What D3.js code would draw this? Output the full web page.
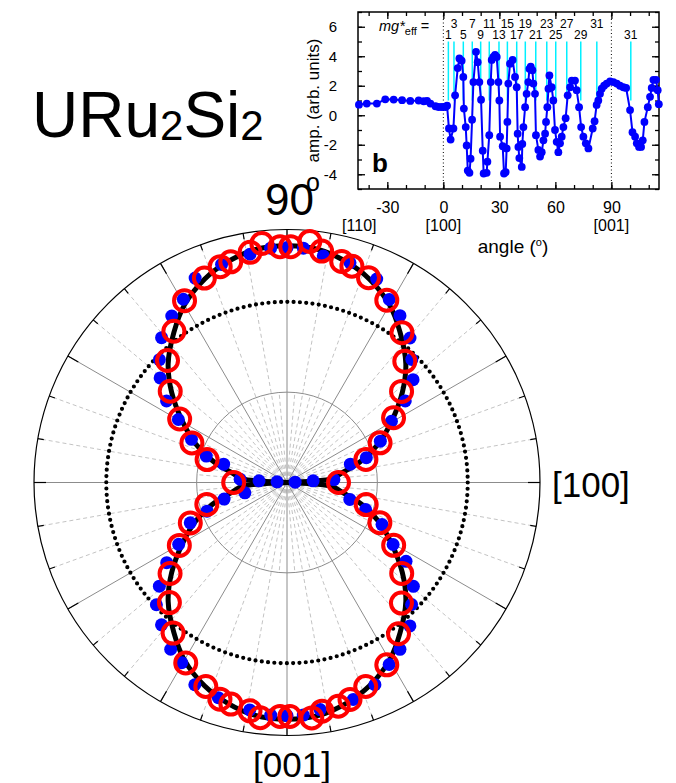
<!DOCTYPE html>
<html>
<head>
<meta charset="utf-8">
<script src="https://cdn.jsdelivr.net/npm/d3@7"></script>
<style>
body { margin: 0; background: #fff; }
text { font-family: "Liberation Sans", Arial, Helvetica, sans-serif; fill: #000; }
</style>
</head>
<body>
<svg id="chart" width="676" height="783"></svg>
<script>
/*****************************************************************************
 *  Data
 */

// polar panel: fit curve (angle in degrees, amplitude)
var fitAngle = [0, 3, 5, 10, 16, 23, 30, 38, 45, 53, 60, 68, 75, 82, 90,
                98, 105, 112, 120, 127, 135, 142, 150, 157, 164, 170, 175, 177,
                180, 183, 185, 190, 196, 203, 210, 218, 225, 233, 240, 248, 255, 262, 270,
                278, 285, 292, 300, 307, 315, 322, 330, 337, 344, 350, 355, 357];
var fitValue = [0.00, 0.30, 0.50, 0.62, 0.85, 1.10, 1.33, 1.62, 1.86, 2.08, 2.27, 2.43, 2.53, 2.60, 2.62,
                2.60, 2.53, 2.43, 2.27, 2.08, 1.86, 1.62, 1.33, 1.10, 0.85, 0.62, 0.50, 0.30,
                0.00, 0.30, 0.50, 0.62, 0.85, 1.10, 1.33, 1.62, 1.86, 2.08, 2.27, 2.43, 2.53, 2.60, 2.62,
                2.60, 2.53, 2.43, 2.27, 2.08, 1.86, 1.62, 1.33, 1.10, 0.85, 0.62, 0.50, 0.30];

// polar panel: filled blue points
var blueAngle = [2, 3.7, 3.6, 16.1, 17.4, 23.9, 30.4, 34.6, 39.2, 44.6, 49.6, 55.9, 60.8, 66.2, 74, 80.9,
                 86, 90, 94, 99.2, 106.7, 114.2, 119.5, 124.7, 130.9, 136.1, 140.5, 145.9, 149.9, 155.7,
                 161.9, 163.9, 176, 176.6, 176, 193.8, 194.8, 199.7, 202.6, 209.7, 213.7, 219.1, 223.1,
                 228.6, 235.1, 239.7, 245.5, 252.3, 260.7, 266, 270, 274, 278.3, 287, 293.5, 299.3,
                 304.1, 310.6, 315.6, 320.6, 326.5, 329.7, 336.1, 341, 344.9];
var blueValue = [0.09, 0.29, 0.52, 0.73, 0.92, 1.13, 1.34, 1.59, 1.80, 1.94, 2.10, 2.23, 2.32, 2.46, 2.53, 2.54,
                 2.60, 2.60, 2.60, 2.56, 2.52, 2.48, 2.33, 2.24, 2.12, 1.96, 1.82, 1.61, 1.39, 1.16,
                 0.94, 0.73, 0.52, 0.31, 0.11, 0.48, 0.72, 0.94, 1.16, 1.38, 1.60, 1.82, 1.98,
                 2.10, 2.25, 2.31, 2.46, 2.50, 2.55, 2.58, 2.58, 2.58, 2.54, 2.51, 2.44, 2.31,
                 2.23, 2.09, 1.93, 1.81, 1.58, 1.36, 1.15, 0.92, 0.72];

// polar panel: open red circles
var redAngle = [0, 16.3, 23.1, 31.3, 38.5, 45.8, 52.5, 61.3, 68.3, 73.3, 76.1, 81.5, 84.6, 89.1,
                91.7, 96, 99.1, 104.3, 107.2, 112, 119.4, 126.8, 134.4, 142, 149.4, 157.4, 164, 180,
                195.3, 202.7, 210.3, 217.9, 225.6, 232.9, 240.7, 248.3, 252.8, 255.8, 260.8, 263.5,
                268.3, 270.7, 276, 278.7, 282.9, 286.2, 291.1, 298.7, 306.4, 313.5, 321.6, 329.5, 336.6, 344.4];
var redValue = [0.57, 0.91, 1.12, 1.38, 1.62, 1.87, 2.09, 2.30, 2.44, 2.50, 2.52, 2.59, 2.68, 2.61,
                2.61, 2.66, 2.58, 2.52, 2.50, 2.44, 2.31, 2.09, 1.89, 1.64, 1.38, 1.14, 0.92, 0.59,
                0.92, 1.16, 1.38, 1.64, 1.86, 2.09, 2.29, 2.43, 2.51, 2.53, 2.56, 2.62,
                2.59, 2.59, 2.62, 2.56, 2.54, 2.50, 2.42, 2.30, 2.08, 1.84, 1.62, 1.37, 1.12, 0.91];

var REFERENCE_VALUE = 2.0;      // dotted circle
var RADIAL_GRID = [1.0];
var RADIAL_MAX = 2.8;

// inset (b): amplitude vs angle
var insetAngle = [-45.2, -41, -35.6, -31.1, -26.6, -22.1, -17.7, -13.2, -10.5, -8.7, -6.9, -4.2, -2.5, -0.7, 1.1, 2.0,
                  3.0, 3.9, 5.4, 6.3, 7.7, 8.6, 9.8, 10.7, 11.0, 12.0, 12.5, 13.1, 14.0, 14.6, 15.4, 16.1,
                  17.5, 18.4, 19.3, 20.2, 21.1, 21.6, 23.2, 23.6, 24.6, 25.4, 25.9, 26.8, 27.7, 28.6, 29.5,
                  30.0, 30.4, 31.8, 32.5, 33.4, 33.9, 34.3, 34.8, 35.7, 37.1, 38.4, 39.3, 39.8, 40.2, 40.7,
                  42.0, 42.3, 42.9, 43.8, 44.6, 45.5, 46.1, 46.8, 47.7, 48.2, 49.1, 49.6, 50.9, 51.8, 52.7,
                  53.6, 54.5, 55.0, 55.7, 56.3, 56.8, 58.0, 58.9, 59.8, 60.7, 61.6, 62.5, 63.4, 64.3, 65.5,
                  66.6, 67.9, 68.8, 70.5, 71.4, 72.7, 73.8, 75.0, 76.3, 77.7, 80.0, 81.0, 82.1, 83.0, 83.9,
                  84.8, 86.1, 87.5, 89.3, 91.1, 92.9, 94.6, 96.4, 97.9, 100.0, 101.3, 102.7, 103.6, 104.8,
                  105.9, 106.8, 107.7, 109.5, 110.7, 111.6, 112.5, 113.9, 114.8, 115.4];
var insetAmp = [0.72, 0.79, 0.79, 1.08, 1.06, 1.02, 0.97, 1.00, 0.95, 0.97, 0.79, 0.61, 0.56, 0.56, 0.56, 0.65,
                -0.90, -1.65, -0.90, 1.35, 3.20, 3.85, 3.70, 2.60, 0.45, -0.80, -2.05, -3.75, -3.90, -2.95, -0.30, 2.25,
                4.30, 3.60, 2.25, 1.05, -2.40, -3.95, -3.90, -3.15, -1.35, 2.25, 3.75, 3.95, 4.10, 3.95, 2.25,
                1.00, -1.45, -2.10, -3.95, -3.85, -2.25, -0.45, 2.15, 3.50, 3.75, 2.60, 1.90, -1.25, -2.15, -2.90,
                -3.50, -1.95, -0.80, 0.55, 1.45, 2.25, 3.15, 3.30, 3.05, 2.15, 1.45, -1.35, -2.35, -2.80, -2.50,
                -1.70, -1.25, -0.45, 0.55, 1.80, 2.70, 1.90, 1.00, -1.00, -1.80, -2.50, -1.90, -1.45, -0.80, -0.20,
                1.35, 1.90, 2.35, 2.35, 1.70, 0.55, -0.80, -1.45, -1.90, -2.25, -0.90, -0.40, 0.70, 1.00, 1.45,
                1.80, 2.00, 2.15, 2.30, 2.25, 2.15, 2.00, 1.90, 1.85, 0.35, -1.15, -1.45, -1.90, -2.15,
                -2.15, -1.70, -0.45, 0.55, 1.25, 1.85, 2.40, 2.40, 1.70, 0.75];

// inset (b): harmonic markers
var harmonicAngle = [2.7, 5.7, 10.7, 15.5, 20, 24.6, 29.8, 34.3, 39.3, 43.9, 49.5, 55.4, 60.2, 66.1, 73.6, 82.2, 100.4];
var harmonicLabel = ["1", "3", "5", "7", "9", "11", "13", "15", "17", "19", "21", "23", "25", "27", "29", "31", "31"];

var insetXTicks = [-30, 0, 30, 60, 90];
var insetYTicks = [-4, -2, 0, 2, 4, 6];
var directionAngle = [-45, 0, 90];
var directionLabel = ["[110]", "[100]", "[001]"];

/*****************************************************************************
 *  Layout
 */
var svg = d3.select("#chart");

var CX = 287, CY = 482.5, OUTER_R = 253;
var BLUE = "#0000ff", RED = "#ff0000", GRID_COLOR = "#8c8c8c";

var INSET_LEFT = 358, INSET_RIGHT = 659, INSET_TOP = 12, INSET_BOTTOM = 189;

var rScale = d3.scaleLinear().domain([0, RADIAL_MAX]).range([0, OUTER_R]);

function toRad(deg) { return deg * Math.PI / 180; }
function px(deg, v) { return CX + rScale(v) * Math.cos(toRad(deg)); }
function py(deg, v) { return CY - rScale(v) * Math.sin(toRad(deg)); }

/*****************************************************************************
 *  Polar panel
 */
var polar = svg.append("g").attr("class", "polar");

// Render radial spokes
d3.range(0, 360, 5).forEach(function (a) {
    var solid = a % 30 === 0;
    var full = a % 10 === 0;
    var end = full ? OUTER_R : rScale(RADIAL_GRID[0]);
    polar.append("line")
        .attr("x1", CX).attr("y1", CY)
        .attr("x2", CX + end * Math.cos(toRad(a)))
        .attr("y2", CY - end * Math.sin(toRad(a)))
        .attr("stroke", solid ? GRID_COLOR : "#b4b4b4")
        .attr("stroke-width", solid ? 1 : 0.8)
        .attr("stroke-dasharray", solid ? null : "4,3");
});

// Render radial grid circle
RADIAL_GRID.forEach(function (g) {
    polar.append("circle")
        .attr("cx", CX).attr("cy", CY)
        .attr("r", rScale(g))
        .attr("fill", "none")
        .attr("stroke", GRID_COLOR)
        .attr("stroke-width", 1);
});

// Render outer circle and angular ticks
polar.append("circle")
    .attr("cx", CX).attr("cy", CY)
    .attr("r", OUTER_R)
    .attr("fill", "none")
    .attr("stroke", "#000")
    .attr("stroke-width", 1.2);

d3.range(0, 360, 10).forEach(function (a) {
    var len = a % 30 === 0 ? 12 : 6;
    polar.append("line")
        .attr("x1", CX + OUTER_R * Math.cos(toRad(a)))
        .attr("y1", CY - OUTER_R * Math.sin(toRad(a)))
        .attr("x2", CX + (OUTER_R - len) * Math.cos(toRad(a)))
        .attr("y2", CY - (OUTER_R - len) * Math.sin(toRad(a)))
        .attr("stroke", "#000")
        .attr("stroke-width", 1.2);
});

// Render dotted reference circle
polar.append("circle")
    .attr("cx", CX).attr("cy", CY)
    .attr("r", rScale(REFERENCE_VALUE))
    .attr("fill", "none")
    .attr("stroke", "#000")
    .attr("stroke-width", 4.2)
    .attr("stroke-linecap", "round")
    .attr("stroke-dasharray", "0 " + (2 * Math.PI * rScale(REFERENCE_VALUE) / 180));

// Render fit curve
var fitLine = d3.lineRadial()
    .angle(function (d, i) { return toRad(90 - fitAngle[i]); })
    .radius(function (d, i) { return rScale(fitValue[i]); })
    .curve(d3.curveCatmullRomClosed.alpha(0.5));

polar.append("path")
    .attr("transform", "translate(" + CX + "," + CY + ")")
    .attr("d", fitLine(fitAngle))
    .attr("fill", "none")
    .attr("stroke", "#000")
    .attr("stroke-width", 5)
    .attr("stroke-linejoin", "round");

// Render blue points
polar.selectAll(".blue-dot")
    .data(blueAngle)
    .enter()
    .append("circle")
    .attr("class", "blue-dot")
    .attr("cx", (d, i) => px(d, blueValue[i]))
    .attr("cy", (d, i) => py(d, blueValue[i]))
    .attr("r", 6.5)
    .attr("fill", BLUE);

// Render red circles
polar.selectAll(".red-circle")
    .data(redAngle)
    .enter()
    .append("circle")
    .attr("class", "red-circle")
    .attr("cx", (d, i) => px(d, redValue[i]))
    .attr("cy", (d, i) => py(d, redValue[i]))
    .attr("r", 10.5)
    .attr("fill", "none")
    .attr("stroke", RED)
    .attr("stroke-width", 4);

// Direction labels
var lbl90 = svg.append("text")
    .attr("x", 265).attr("y", 215)
    .style("font-size", "44px");
lbl90.append("tspan").text("90");
lbl90.append("tspan").attr("dx", -8).attr("dy", -24).style("font-size", "25px").text("o");

svg.append("text")
    .attr("x", 552).attr("y", 497)
    .style("font-size", "35px")
    .text("[100]");

svg.append("text")
    .attr("x", 292).attr("y", 777)
    .attr("text-anchor", "middle")
    .style("font-size", "35px")
    .text("[001]");

// Title
var title = svg.append("text")
    .attr("x", 32).attr("y", 137)
    .style("font-size", "64px");
title.append("tspan").text("URu");
title.append("tspan").attr("dy", 3).style("font-size", "42px").text("2");
title.append("tspan").attr("dy", -3).text("Si");
title.append("tspan").attr("dy", 3).style("font-size", "42px").text("2");

/*****************************************************************************
 *  Inset (b)
 */
var inset = svg.append("g").attr("class", "inset");

var xScale = d3.scaleLinear().domain([-45.7, 115.5]).range([INSET_LEFT, INSET_RIGHT]);
var yScale = d3.scaleLinear().domain([-5, 7]).range([INSET_BOTTOM, INSET_TOP]);

// Harmonic marker lines and labels
inset.selectAll(".harmonic")
    .data(harmonicAngle)
    .enter()
    .append("line")
    .attr("class", "harmonic")
    .attr("x1", d => xScale(d)).attr("x2", d => xScale(d))
    .attr("y1", yScale(5)).attr("y2", yScale(1))
    .attr("stroke", "#00f0ff")
    .attr("stroke-width", 1.5);

inset.selectAll(".harmonic-label")
    .data(harmonicAngle)
    .enter()
    .append("text")
    .attr("class", "harmonic-label")
    .attr("x", d => xScale(d))
    .attr("y", (d, i) => (i % 2 === 0 ? 38.5 : 27.5))
    .attr("text-anchor", "middle")
    .style("font-size", "12px")
    .text((d, i) => harmonicLabel[i]);

var mg = inset.append("text")
    .attr("x", 379).attr("y", 31)
    .style("font-size", "14.5px");
mg.append("tspan").style("font-style", "italic").text("mg*");
mg.append("tspan").attr("dy", 4).style("font-size", "11px").text("eff");
mg.append("tspan").attr("dy", -4).text(" =");

// Dotted direction lines
[0, 90].forEach(function (a) {
    inset.append("line")
        .attr("x1", xScale(a)).attr("x2", xScale(a))
        .attr("y1", INSET_TOP).attr("y2", INSET_BOTTOM)
        .attr("stroke", "#000")
        .attr("stroke-width", 1)
        .attr("stroke-dasharray", "1,2.5");
});

// Axes (inward ticks, mirrored)
function styleAxis(g) {
    g.select(".domain").remove();
    g.selectAll("line").attr("stroke", "#000").attr("stroke-width", 1.3);
    g.selectAll("text").attr("fill", "#000").style("font-family", "Liberation Sans, Arial, sans-serif");
}

inset.append("g")
    .attr("transform", "translate(0," + INSET_BOTTOM + ")")
    .call(d3.axisBottom(xScale).tickValues(d3.range(-40, 111, 10)).tickSize(-4).tickFormat(""))
    .call(styleAxis);
inset.append("g")
    .attr("transform", "translate(0," + INSET_BOTTOM + ")")
    .call(d3.axisBottom(xScale).tickValues(insetXTicks).tickSize(-7).tickPadding(12.5).tickFormat(d => String(d)))
    .call(styleAxis)
    .selectAll("text").style("font-size", "16px");
inset.append("g")
    .attr("transform", "translate(0," + INSET_TOP + ")")
    .call(d3.axisTop(xScale).tickValues(d3.range(-40, 111, 10)).tickSize(-4).tickFormat(""))
    .call(styleAxis);
inset.append("g")
    .attr("transform", "translate(0," + INSET_TOP + ")")
    .call(d3.axisTop(xScale).tickValues(insetXTicks).tickSize(-7).tickFormat(""))
    .call(styleAxis);

inset.append("g")
    .attr("transform", "translate(" + INSET_LEFT + ",0)")
    .call(d3.axisLeft(yScale).tickValues(d3.range(-5, 8, 1)).tickSize(-4).tickFormat(""))
    .call(styleAxis);
inset.append("g")
    .attr("transform", "translate(" + INSET_LEFT + ",0)")
    .call(d3.axisLeft(yScale).tickValues(insetYTicks).tickSize(-7).tickPadding(21).tickFormat(d => String(d)))
    .call(styleAxis)
    .selectAll("text").style("font-size", "15px");
inset.append("g")
    .attr("transform", "translate(" + INSET_RIGHT + ",0)")
    .call(d3.axisRight(yScale).tickValues(d3.range(-5, 8, 1)).tickSize(-4).tickFormat(""))
    .call(styleAxis);
inset.append("g")
    .attr("transform", "translate(" + INSET_RIGHT + ",0)")
    .call(d3.axisRight(yScale).tickValues(insetYTicks).tickSize(-7).tickFormat(""))
    .call(styleAxis);

// Frame
inset.append("rect")
    .attr("x", INSET_LEFT).attr("y", INSET_TOP)
    .attr("width", INSET_RIGHT - INSET_LEFT)
    .attr("height", INSET_BOTTOM - INSET_TOP)
    .attr("fill", "none")
    .attr("stroke", "#000")
    .attr("stroke-width", 1.5);

// Data line and dots
var ampLine = d3.line()
    .x((d, i) => xScale(d))
    .y((d, i) => yScale(insetAmp[i]));

inset.append("path")
    .attr("d", ampLine(insetAngle))
    .attr("fill", "none")
    .attr("stroke", BLUE)
    .attr("stroke-width", 2);

inset.selectAll(".amp-dot")
    .data(insetAngle)
    .enter()
    .append("circle")
    .attr("class", "amp-dot")
    .attr("cx", d => xScale(d))
    .attr("cy", (d, i) => yScale(insetAmp[i]))
    .attr("r", 3.9)
    .attr("fill", BLUE);

// Panel letter
inset.append("text")
    .attr("x", 372).attr("y", 172)
    .style("font-size", "26px")
    .style("font-weight", "bold")
    .text("b");

// Direction labels under axis
inset.selectAll(".dir-label")
    .data(directionAngle)
    .enter()
    .append("text")
    .attr("class", "dir-label")
    .attr("x", d => xScale(d))
    .attr("y", 231)
    .attr("text-anchor", "middle")
    .style("font-size", "16px")
    .text((d, i) => directionLabel[i]);

// Axis titles
var xTitle = inset.append("text")
    .attr("x", 513).attr("y", 253)
    .attr("text-anchor", "middle")
    .style("font-size", "19px");
xTitle.append("tspan").text("angle (");
xTitle.append("tspan").attr("dy", -7).style("font-size", "11px").text("o");
xTitle.append("tspan").attr("dy", 7).text(")");

inset.append("text")
    .attr("transform", "translate(319," + ((INSET_TOP + INSET_BOTTOM) / 2) + ") rotate(-90)")
    .attr("text-anchor", "middle")
    .style("font-size", "17px")
    .text("amp. (arb. units)");
</script>
</body>
</html>
